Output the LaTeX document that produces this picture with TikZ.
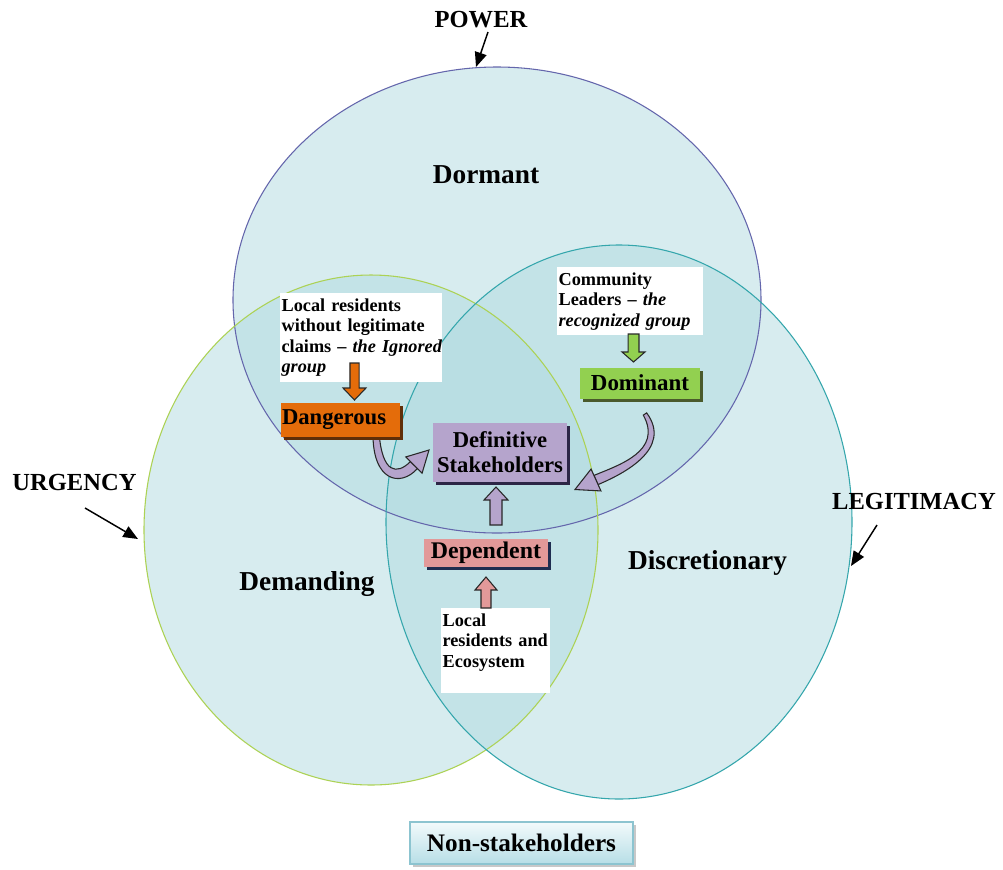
\documentclass[tikz,border=0pt]{standalone}
\usepackage{fontspec}
\setmainfont{Liberation Serif}
\usetikzlibrary{arrows.meta,calc,shadows}

\definecolor{vfill}{RGB}{177,219,225}
\definecolor{powline}{RGB}{100,102,172}
\definecolor{urgline}{RGB}{172,210,84}
\definecolor{legline}{RGB}{52,166,172}
\definecolor{dangfill}{RGB}{228,108,10}
\definecolor{dangsh}{RGB}{96,46,8}
\definecolor{domfill}{RGB}{146,208,80}
\definecolor{domsh}{RGB}{74,90,44}
\definecolor{deffill}{RGB}{181,164,204}
\definecolor{defsh}{RGB}{44,38,70}
\definecolor{depfill}{RGB}{226,153,153}
\definecolor{depsh}{RGB}{31,45,80}
\definecolor{arrowline}{RGB}{40,40,40}
\definecolor{nstop}{RGB}{242,250,251}
\definecolor{nsbot}{RGB}{183,222,230}
\definecolor{nsline}{RGB}{140,196,208}
\definecolor{nssh}{RGB}{200,200,200}

% #1 style, #2 tail, #3 tip, #4 shaft half width, #5 head half width, #6 head length
\newcommand\blockarrow[6]{%
  \coordinate (ba-base) at ($(#3)!#6!(#2)$);
  \draw[#1] ($(#2)!#4!90:(#3)$) -- ($(ba-base)!#4!90:(#3)$) -- ($(ba-base)!#5!90:(#3)$)
    -- (#3) -- ($(ba-base)!#5!-90:(#3)$) -- ($(ba-base)!#4!-90:(#3)$) -- ($(#2)!#4!-90:(#3)$) -- cycle;}
% #1 style, #2 base, #3 tip, #4 half width
\newcommand\curvehead[4]{%
  \draw[#1] ($(#2)!#4!90:(#3)$) -- (#3) -- ($(#2)!#4!-90:(#3)$) -- cycle;}

\tikzset{
  lab/.style={font=\fontsize{18.4}{20}\selectfont\bfseries, inner sep=0, anchor=base},
  region/.style={font=\fontsize{20.5}{22}\selectfont\bfseries, inner sep=0, anchor=base},
  dshadow/.style={drop shadow={shadow xshift=2.25pt, shadow yshift=-2.25pt, fill=#1, opacity=1}},
  cbox/.style={inner sep=0, align=center},
  wbox/.style={fill=white, anchor=north west, inner xsep=1pt, inner ysep=3.8pt, align=left,
    font=\fontsize{13.7}{15.4}\selectfont\bfseries},
  pointer/.style={-{Triangle[length=11pt,width=9pt]}, line width=1.1pt, black},
  blk/.style={draw=arrowline, line width=0.8pt, line join=miter},
  vell/.style={fill=vfill, fill opacity=0.5},
}

\begin{document}
\begin{tikzpicture}[x=0.75pt, y=-0.75pt]
\useasboundingbox (0,0) rectangle (1003,869);
\fill[white] (0,0) rectangle (1003,869);

% ellipses
\fill[vell] (497,300) ellipse [x radius=198pt, y radius=174.75pt];
\fill[vell] (371,530) ellipse [x radius=170.25pt, y radius=191.25pt];
\fill[vell] (619,522) ellipse [x radius=174.75pt, y radius=207.75pt];
\draw[powline, line width=0.8pt] (497,300) ellipse [x radius=198pt, y radius=174.75pt];
\draw[urgline, line width=0.8pt] (371,530) ellipse [x radius=170.25pt, y radius=191.25pt];
\draw[legline, line width=0.8pt] (619,522) ellipse [x radius=174.75pt, y radius=207.75pt];

% region labels
\node[region] (dormant) at (486,183) {Dormant};
\node[region] (demanding) at (307,590) {Demanding};
\node[region] (discretionary) at (707.5,569) {Discretionary};

% attribute labels and pointers
\node[lab] (power) at (481,27) {POWER};
\coordinate (powS) at (488,32);
\coordinate (powE) at (476,67);
\draw[pointer] (powS) -- (powE);
\node[lab] (urgency) at (74.5,490.7) {URGENCY};
\coordinate (urgS) at (85,508);
\coordinate (urgE) at (138,539);
\draw[pointer] (urgS) -- (urgE);
\node[lab] (legitimacy) at (914,509) {LEGITIMACY};
\coordinate (legS) at (877,525);
\coordinate (legE) at (851,566);
\draw[pointer] (legS) -- (legE);

% curved arrows (tapered shafts)
\coordinate (lcB) at (414,465);
\coordinate (lcT) at (429,450);
\draw[blk, fill=deffill] (373,432) .. controls (372,481) and (400,488) .. (417.6,468.4)
  -- (410.4,461.6) .. controls (397,475) and (382,474) .. (379,432) -- cycle;
\coordinate (rcB) at (596,480);
\coordinate (rcT) at (575,489.5);
\draw[blk, fill=deffill] (646.7,412.9) .. controls (673,449) and (623,474) .. (598,484.6)
  -- (594,475.4) .. controls (619,465) and (663,451) .. (643.3,415.1) -- cycle;

% white text boxes
\node[wbox, text width=119.5pt] (ign) at (280,293)
  {Local residents\\without legitimate\\\mbox{claims -- \textit{the Ignored}}\\\textit{group}};
\node[wbox, text width=107.5pt] (comm) at (557,267)
  {Community\\Leaders -- \textit{the}\\\mbox{\textit{recognized group}}};
\node[wbox, text width=79.75pt] (eco) at (441,608)
  {Local\\\mbox{residents and}\\Ecosystem\\\mbox{}};

% coloured boxes
\node[cbox, fill=dangfill, dshadow=dangsh, text width=87.75pt, align=left, inner xsep=1pt,
  minimum height=25.5pt, font=\fontsize{17}{20}\selectfont\bfseries] (dang) at (340.5,420) {Dangerous};
\node[cbox, fill=domfill, dshadow=domsh, minimum width=90pt, minimum height=23.25pt,
  font=\fontsize{17.2}{20}\selectfont\bfseries] (dom) at (640,383) {Dominant};
\node[cbox, fill=deffill, dshadow=defsh, minimum width=100.5pt, minimum height=44.25pt,
  font=\fontsize{17}{18.75}\selectfont\bfseries] (def) at (500,452.5) {Definitive\\Stakeholders};
\node[cbox, fill=depfill, dshadow=depsh, minimum width=93pt, minimum height=21pt,
  font=\fontsize{17.9}{20}\selectfont\bfseries] (dep) at (486,553) {Dependent};
\node[cbox, top color=nstop, bottom color=nsbot, draw=nsline, line width=1.1pt, dshadow=nssh,
  minimum width=167pt, minimum height=31.5pt,
  font=\fontsize{18.9}{20}\selectfont\bfseries] (non) at (521.5,843) {Non-stakeholders};

% curved arrow heads
\curvehead{blk, fill=deffill}{lcB}{lcT}{8.6pt}
\curvehead{blk, fill=deffill}{rcB}{rcT}{9pt}

% block arrows
\coordinate (oaT) at (354.5,363);
\coordinate (oaH) at (354.5,400);
\blockarrow{blk, fill=dangfill}{oaT}{oaH}{3.4pt}{8.6pt}{9pt}
\coordinate (gaT) at (633.5,334);
\coordinate (gaH) at (633.5,362);
\blockarrow{blk, fill=domfill}{gaT}{gaH}{4.1pt}{8.6pt}{7.5pt}
\coordinate (paT) at (496,525);
\coordinate (paH) at (496,487);
\blockarrow{blk, fill=deffill}{paT}{paH}{4.5pt}{9pt}{9.75pt}
\coordinate (kaT) at (486,608);
\coordinate (kaH) at (486,577);
\blockarrow{blk, fill=depfill}{kaT}{kaH}{3.75pt}{8.25pt}{9.75pt}
\end{tikzpicture}
\end{document}
